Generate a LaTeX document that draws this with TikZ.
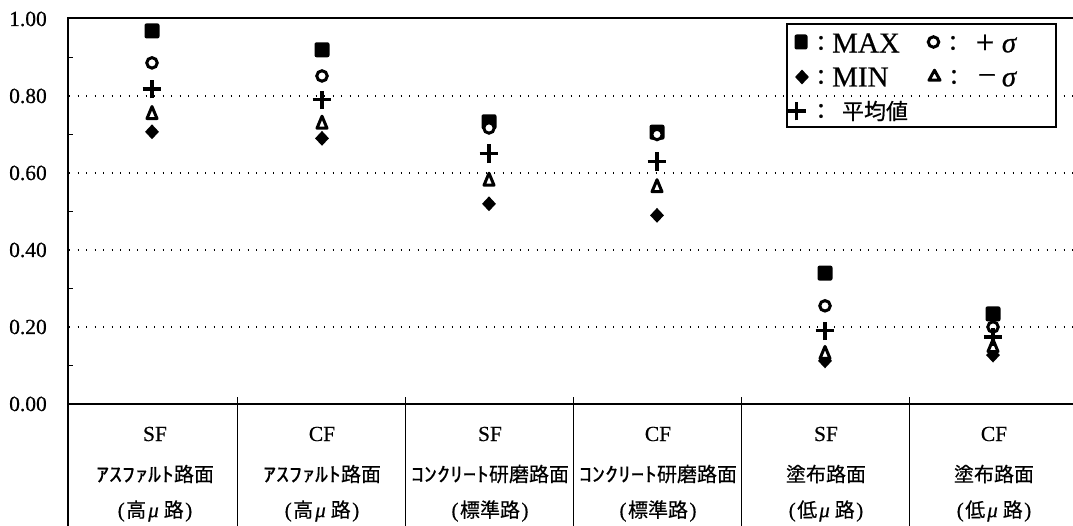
\documentclass[tikz,border=0pt]{standalone}
\usepackage{fontspec}
\setmainfont{Liberation Serif}[FakeBold=0.5]
\newfontfamily\lser{Liberation Serif}[FakeBold=0.5]
\newfontfamily\jp{Noto Sans CJK JP}[FakeBold=0.4]
\newfontfamily\jpw{Noto Sans CJK JP}[FakeStretch=1.3,FakeBold=0.4]
\usetikzlibrary{shapes.geometric,shapes.misc}
\newcommand\pl[1]{{\lser\fontsize{21}{24}\selectfont(}\kern1.5pt#1\kern1.5pt{\lser\fontsize{21}{24}\selectfont)}}
\newcommand\mymu{\kern2pt{\lser\fontsize{21}{24}\selectfont\itshape μ}\kern5pt}
\begin{document}
\begin{tikzpicture}[x=1pt,y=-1pt,
  frame/.style={line width=2pt},
  colline/.style={line width=1.3pt},
  gridl/.style={line width=1.3pt,dash pattern=on 1.3pt off 7.2pt},
  tickl/.style={line width=1pt},
  ylab/.style={anchor=east,inner sep=0pt,font=\fontsize{21.5}{24}\selectfont},
  catl/.style={inner sep=0pt,font=\fontsize{21.5}{24}\selectfont},
  jpl/.style={inner sep=0pt,font=\jp\fontsize{20}{24}\selectfont},
  legt/.style={inner sep=0pt,font=\fontsize{29}{30}\selectfont},
  legp/.style={inner sep=0pt,font=\fontsize{33}{34}\selectfont},
  sqm/.style={rectangle,fill=black,minimum size=15pt,inner sep=0pt,rounded corners=2pt},
  dmm/.style={diamond,fill=black,minimum width=14pt,minimum height=15pt,inner sep=0pt},
  cim/.style={circle,draw=black,fill=white,line width=3pt,minimum size=10.5pt,inner sep=0pt},
  trm/.style={isosceles triangle,shape border rotate=90,isosceles triangle stretches,
     draw=black,fill=white,line width=3pt,line join=round,minimum width=10pt,minimum height=12pt,inner sep=0pt},
  plm/.style={cross out,rotate=45,draw=black,line width=3.3pt,minimum size=9.8pt,inner sep=0pt}
]
\useasboundingbox[fill=white] (0,0) rectangle (1073,526);

% grid lines
\foreach \v in {0.2,0.4,0.6,0.8}
  \draw[gridl] (69,{404-385*\v}) -- (1073,{404-385*\v});

% ticks
\foreach \v in {0.1,0.3,0.5,0.7,0.9}
  \draw[tickl] (68,{404-385*\v}) -- (73,{404-385*\v});

% frame
\draw[frame] (68,526) -- (68,18.5) -- (1073,18.5);
\draw[frame] (68,404) -- (1073,404);
\foreach \x in {237.5,405.5,573.5,741.5,909.5}
  \draw[colline] (\x,397) -- (\x,526);

% y labels
\foreach \v/\t in {0/0.00,0.2/0.20,0.4/0.40,0.6/0.60,0.8/0.80,1/1.00}
  \node[ylab] (yl\t) at (47,{404-385*\v}) {\t};

% category labels
\foreach \i/\x/\a/\b/\c in {
  1/155/SF/{{\jpw ｱｽﾌｧﾙﾄ}路面}/{\pl{高\mymu 路}},
  2/322/CF/{{\jpw ｱｽﾌｧﾙﾄ}路面}/{\pl{高\mymu 路}},
  3/490/SF/{{\jpw ｺﾝｸﾘｰﾄ}研磨路面}/{\pl{標準路}},
  4/658/CF/{{\jpw ｺﾝｸﾘｰﾄ}研磨路面}/{\pl{標準路}},
  5/826/SF/塗布路面/{\pl{低\mymu 路}},
  6/994/CF/塗布路面/{\pl{低\mymu 路}}}{
  \node[catl] (ca\i) at (\x,434) {\a};
  \node[jpl] (cb\i) at (\x,474) {\b};
  \node[jpl] (cc\i) at (\x,511) {\c};
}

% data markers
\foreach \n/\x/\ma/\pl/\av/\mi/\mn in {
  1/152/0.969/0.886/0.818/0.750/0.707,
  2/322/0.920/0.852/0.790/0.725/0.690,
  3/489/0.733/0.717/0.650/0.577/0.520,
  4/657/0.706/0.700/0.630/0.560/0.490,
  5/825/0.340/0.255/0.190/0.127/0.112,
  6/993/0.234/0.200/0.174/0.145/0.127}{
  \node[sqm] (max\n) at (\x,{404-385*\ma}) {};
  \node[dmm] (min\n) at (\x,{404-385*\mn}) {};
  \node[cim] (sdp\n) at (\x,{404-385*\pl}) {};
  \node[trm] (sdm\n) at (\x,{404-385*\mi}) {};
  \node[plm] (avg\n) at (\x,{404-385*\av}) {};
}

% legend
\draw[line width=1.2pt] (787,24) rectangle (1056,127);
\node[sqm,minimum width=13pt] (lgmax) at (801,42) {};
\node[legt] (lgc1) at (821,43) {:};
\node[legt,anchor=west] (lgt1) at (832,43) {MAX};
\node[cim] (lgsp) at (933.5,42) {};
\node[legt] (lgc2) at (953,43) {:};
\node[legp] (lgt2) at (985,44) {+};
\node[legt] (lgs2) at (1009,45) {\itshape σ};
\node[dmm] (lgmin) at (802,77) {};
\node[legt] (lgc3) at (821,77) {:};
\node[legt,anchor=west] (lgt3) at (832,77) {MIN};
\node[trm,minimum width=11pt,minimum height=10pt] (lgsm) at (934.5,77) {};
\node[legt] (lgc4) at (954,77) {:};
\node[legp] (lgt4) at (987,80) {−};
\node[legt] (lgs4) at (1009,79) {\itshape σ};
\node[plm] (lgavg) at (796.5,111) {};
\node[legt] (lgc5) at (821,111) {:};
\node[inner sep=0pt,font=\jp\fontsize{22}{24}\selectfont] (lgt5) at (875,111) {平均値};
\end{tikzpicture}
\end{document}
